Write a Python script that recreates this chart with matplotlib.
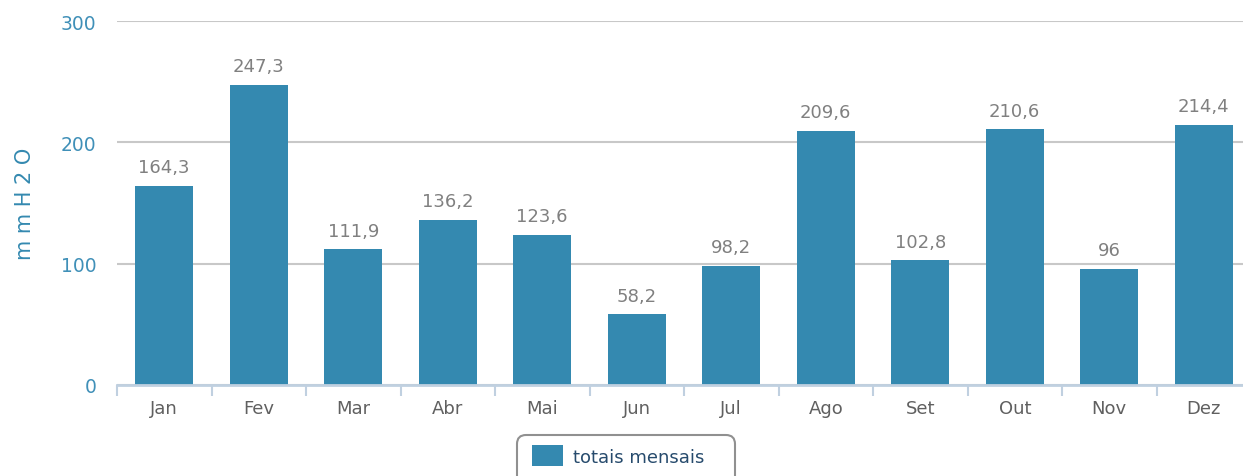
import matplotlib.pyplot as plt
from matplotlib.patches import FancyBboxPatch
import numpy as np

# Meses e totais mensais de precipitação (mmH2O)
meses = ['Jan', 'Fev', 'Mar', 'Abr', 'Mai', 'Jun', 'Jul', 'Ago', 'Set', 'Out', 'Nov', 'Dez']
totais = [164.3, 247.3, 111.9, 136.2, 123.6, 58.2, 98.2, 209.6, 102.8, 210.6, 96, 214.4]
ticks_y = [0, 100, 200, 300]

cor_barra = '#3489b0'
cor_eixo = '#c0d0e0'

plt.rcParams['font.family'] = ['DejaVu Sans']

fig = plt.figure(figsize=(12.43, 4.77), dpi=100)
# A área do gráfico continua além da borda direita da imagem (como no original)
ax = fig.add_axes([117 / 1243, 1 - 386 / 477, 1134 / 1243, 364 / 477])

x = np.arange(len(meses))
barras = ax.bar(x, totais, width=0.615, color=cor_barra, label='totais mensais', zorder=3)

# Rótulos de valor acima das barras (vírgula decimal)
for xi, v in zip(x, totais):
  texto = ('%g' % v).replace('.', ',')
  ax.annotate(texto, (xi, v), xytext=(0, 7), textcoords='offset points',
              ha='center', va='bottom', fontsize=13, color='#808080')

ax.set_xlim(-0.5, len(meses) - 0.5)
ax.set_ylim(0, 300)

# Eixo y: grade sem marcas
ax.set_yticks(ticks_y)
ax.tick_params(axis='y', length=0, pad=15, labelsize=13.5, labelcolor='#4090b8')
ax.grid(axis='y', color='#c8c8c8', linewidth=1.5, zorder=0)

# Eixo x: rótulos no centro, marcas nos limites das categorias
ax.set_xticks(x)
ax.set_xticklabels(meses)
ax.set_xticks(np.arange(-0.5, len(meses)), minor=True)
ax.tick_params(axis='x', which='major', length=0, pad=10, labelsize=13, labelcolor='#606060')
ax.tick_params(axis='x', which='minor', length=8, width=1.5, color=cor_eixo)

for lado in ['top', 'right', 'left']:
  ax.spines[lado].set_visible(False)
ax.spines['bottom'].set_color(cor_eixo)
ax.spines['bottom'].set_linewidth(2)
ax.spines['bottom'].set_zorder(4)

ax.set_ylabel('m m H 2 O', fontsize=15, color=cor_barra)
ax.yaxis.set_label_coords(-82 / 1134, 0.5)

# Moldura da legenda (cortada pela borda inferior)
moldura = FancyBboxPatch((517, -20), 218, 61, boxstyle='round,pad=0,rounding_size=9',
                         transform=None, facecolor='white', edgecolor='#909090', linewidth=1.5)
fig.patches.append(moldura)

leg = fig.legend(handles=[barras], loc='upper left', bbox_to_anchor=(532 / 1243, 1 - 446 / 477),
                 fontsize=13, frameon=False, handlelength=1.7, handleheight=1.45,
                 borderpad=0, handletextpad=0.55, borderaxespad=0)
for t in leg.get_texts():
  t.set_color('#274b6d')

fig.savefig('out.png', dpi=100)
